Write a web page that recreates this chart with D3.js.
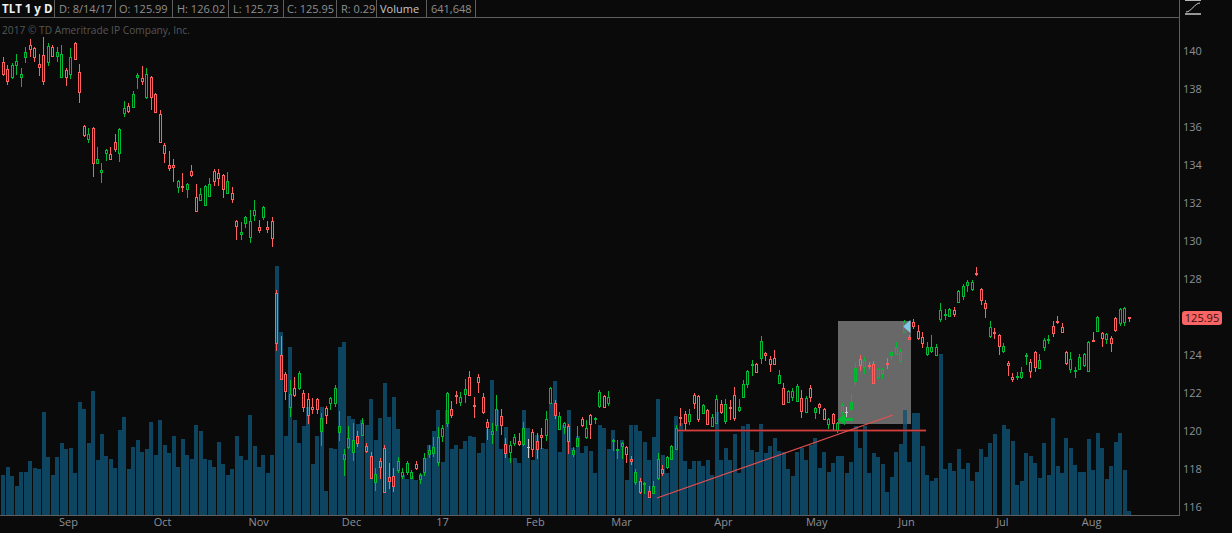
<!DOCTYPE html>
<html><head><meta charset="utf-8">
<script src="https://cdnjs.cloudflare.com/ajax/libs/d3/7.8.5/d3.min.js"></script>
<style>html,body{margin:0;padding:0;background:#0a0a0a;overflow:hidden}svg{display:block}text{font-family:"Open Sans",sans-serif}</style>
</head><body><svg id="c" width="1232" height="533"></svg>
<script>
const highs=[139.68,139.26,139.37,139.84,139.11,140.21,140.63,140.21,139.84,140.74,
140.42,140.32,140.21,140.32,139.11,140.16,140.47,139.32,136.11,135.95,
136.0,134.95,134.11,134.84,134.95,135.63,135.95,137.37,137.26,137.89,
138.84,139.21,139.11,138.68,137.79,136.89,135.16,134.74,134.32,133.21,
133.58,133.05,134.0,133.0,132.79,132.95,133.32,133.79,133.79,133.53,
133.63,132.84,131.11,131.0,131.32,131.63,132.16,131.11,131.84,131.05,
131.26,127.42,125.0,123.11,122.68,122.84,123.16,122.16,122.0,121.74,
121.74,120.95,121.32,121.79,122.42,121.05,119.05,120.26,120.42,120.0,
120.68,119.37,118.89,118.05,118.58,119.26,118.32,118.05,118.63,118.05,
118.42,117.95,118.42,117.79,118.84,119.26,119.68,120.21,120.32,122.05,
121.58,122.11,122.05,122.74,123.16,121.79,123.0,122.0,120.63,120.42,
121.89,121.16,119.63,119.47,119.84,119.89,120.47,119.58,120.11,119.89,
120.16,121.05,122.32,121.63,121.0,120.47,120.37,119.16,120.26,120.74,
120.58,120.89,120.74,122.16,121.89,122.11,119.58,119.53,119.42,119.21,
118.68,118.0,117.53,117.32,117.11,117.37,118.84,118.21,118.68,119.26,
120.32,121.21,121.05,121.16,122.0,121.89,121.42,121.16,120.89,121.89,
121.63,121.68,121.63,122.32,121.68,122.68,123.21,123.74,123.58,125.0,
124.16,123.95,124.26,123.21,122.53,122.16,122.26,122.47,122.16,121.84,
122.42,121.26,121.47,121.21,120.68,120.95,120.47,121.47,121.26,121.95,
123.58,124.0,123.89,123.63,123.68,123.32,123.32,123.84,124.21,124.68,
124.32,125.84,125.05,125.89,125.58,125.21,124.68,125.05,124.58,126.74,
126.42,126.47,126.53,127.42,127.74,127.95,127.95,128.63,127.53,126.89,
125.79,125.42,125.11,124.63,123.68,123.05,123.11,123.37,124.11,123.79,
124.21,124.05,124.89,125.05,125.79,126.05,125.68,124.21,124.16,123.37,
124.05,124.11,124.74,125.21,126.05,125.21,125.16,125.0,126.0,126.47,126.53,126.02];
const lows=[138.68,138.21,138.53,138.74,138.11,139.37,139.68,139.42,138.68,138.21,
139.21,139.68,139.42,138.58,138.16,138.53,139.53,137.26,135.47,135.16,
133.37,134.05,133.05,134.21,134.26,134.68,134.16,136.53,136.74,137.0,
138.0,138.21,137.47,136.89,136.79,135.16,134.11,133.68,133.11,132.53,
132.58,132.26,133.37,131.53,132.11,131.84,132.32,132.89,132.89,132.26,
132.47,132.0,130.05,130.05,130.68,129.89,131.05,130.42,131.11,130.42,
129.68,124.21,122.68,121.63,120.74,121.79,122.16,121.0,120.37,120.89,
120.89,119.21,120.37,121.11,121.26,119.47,117.63,119.05,118.42,119.16,
119.74,118.84,117.47,116.84,117.47,116.74,116.95,116.79,117.79,117.47,
117.68,117.47,117.95,117.21,117.63,118.58,118.63,118.16,119.42,120.21,
120.68,121.42,121.32,121.47,121.84,120.68,122.0,120.89,119.53,119.32,
120.0,119.79,118.58,118.32,119.21,119.21,119.21,118.58,118.63,118.53,
119.05,119.47,121.42,120.63,120.05,119.84,118.79,118.63,119.16,120.21,
119.58,119.58,120.37,121.21,121.21,121.32,118.95,118.53,118.53,118.32,
118.21,117.16,116.68,116.68,116.47,116.68,117.42,117.63,118.0,118.47,
119.0,120.26,120.05,120.32,121.16,120.47,120.89,120.32,120.21,120.37,
120.89,120.37,120.58,120.53,121.0,121.74,122.26,122.89,123.05,123.53,
123.68,123.11,123.47,122.47,121.37,121.47,121.58,121.53,120.68,120.95,
121.53,120.63,120.89,120.58,120.11,120.05,119.89,120.84,120.74,121.11,
122.42,123.16,123.0,123.26,122.47,122.74,122.74,123.26,123.74,124.0,
123.63,125.16,124.79,125.37,124.79,124.37,123.95,124.11,123.95,125.74,
125.84,126.0,126.0,126.74,126.89,127.32,127.37,128.16,126.63,125.95,
124.89,124.84,124.0,124.11,122.89,122.58,122.68,122.74,123.47,122.79,
123.11,123.26,124.21,124.58,124.95,125.63,125.16,123.47,123.05,122.79,
123.21,123.37,123.11,124.68,125.21,124.42,124.58,124.16,125.21,125.53,125.53,125.73];
const opens=[139.42,139.05,138.63,139.26,138.63,139.68,140.32,140.16,139.32,139.79,
139.42,140.21,139.74,138.63,139.0,138.79,140.42,138.89,136.05,135.37,
135.95,134.11,133.63,134.63,134.58,135.21,134.63,136.74,137.11,137.05,
138.63,138.58,137.58,138.63,137.74,136.68,135.05,134.0,134.0,132.84,
132.89,132.74,133.68,132.32,132.16,131.89,132.37,133.68,133.58,133.47,
132.53,132.53,131.05,130.37,130.95,130.21,131.37,130.74,131.26,130.74,
131.05,127.26,124.0,123.0,121.26,122.26,122.26,122.0,121.68,121.26,
121.68,120.0,121.21,121.47,121.47,119.95,118.53,119.16,118.89,119.74,
119.79,119.21,118.68,117.32,118.42,119.11,117.58,117.63,117.95,117.63,
117.84,117.53,118.26,117.47,117.84,118.79,118.84,118.37,119.74,120.42,
121.16,121.89,121.53,121.95,122.84,121.37,122.84,121.79,120.47,119.84,
120.32,120.79,119.32,118.89,119.37,119.47,119.32,119.16,119.95,119.47,
119.79,119.79,121.47,121.47,120.11,120.21,120.26,118.79,119.21,120.63,
119.68,120.84,120.63,121.32,121.84,121.47,119.47,119.0,119.21,119.16,
118.53,117.32,117.37,117.21,116.84,116.74,117.53,118.0,118.11,118.53,
119.05,120.74,120.89,120.53,121.89,121.84,120.95,121.11,120.26,120.42,
121.42,120.53,121.26,121.89,121.11,121.79,122.47,123.47,123.53,123.84,
124.11,123.79,123.84,122.53,122.26,121.53,121.79,121.58,121.74,121.0,
122.26,121.0,121.42,121.16,120.37,120.89,120.05,121.0,121.0,121.16,
122.63,123.79,123.37,123.47,123.53,122.84,123.0,123.58,124.0,124.05,
123.68,125.21,124.95,125.74,125.26,124.95,124.05,124.21,124.0,125.89,
126.11,126.05,126.37,126.79,127.11,127.68,127.47,128.32,127.47,126.74,
125.0,125.21,125.05,124.21,123.58,122.84,122.84,122.84,123.95,123.63,
124.16,123.32,124.42,124.79,125.53,125.79,125.47,124.16,123.26,123.16,
123.26,123.47,123.16,124.79,125.26,125.16,124.84,124.89,125.95,125.68,125.74,125.99];
const closes=[138.79,138.42,139.26,139.47,138.79,139.95,140.11,139.68,139.16,138.42,
140.26,139.74,139.95,139.84,138.63,139.68,139.58,137.84,135.58,135.63,
134.11,134.32,133.74,134.79,134.32,134.84,135.89,137.0,136.84,137.74,
138.74,138.42,138.79,137.58,136.79,135.21,134.63,133.84,133.89,133.16,
132.84,133.0,133.47,131.58,132.47,132.89,133.0,133.16,133.32,132.74,
133.16,132.21,130.79,130.47,131.26,131.05,131.63,130.58,131.79,130.63,
130.16,124.63,122.74,122.11,121.95,121.89,123.05,121.26,120.84,121.16,
121.16,120.68,120.84,121.74,122.26,120.26,118.79,119.63,119.53,119.37,
120.42,118.95,117.53,117.74,118.11,116.79,117.37,117.11,118.42,117.84,
118.32,117.84,118.05,117.68,118.58,119.0,119.16,119.68,120.16,122.0,
120.84,121.84,121.79,122.21,121.89,121.32,122.58,121.0,120.21,120.0,
121.16,120.32,118.84,119.26,119.68,119.32,120.16,119.16,119.05,119.05,
119.68,120.63,122.26,120.84,120.79,120.42,119.47,119.0,119.63,120.32,
120.16,120.37,120.68,122.05,121.26,121.79,119.53,119.05,119.37,118.79,
118.42,117.84,116.79,117.26,116.53,117.11,118.53,117.79,118.63,119.21,
120.16,120.68,120.42,120.89,121.47,120.63,121.37,120.37,120.74,121.68,
121.0,121.42,121.21,120.68,121.26,122.47,123.16,123.53,123.11,124.74,
124.0,123.53,123.53,122.95,121.42,122.11,122.11,122.37,121.05,121.74,
121.79,121.21,121.26,120.63,120.63,120.42,120.42,121.37,121.0,121.53,
123.32,123.47,123.74,123.42,122.53,123.26,123.26,123.53,124.16,124.42,
124.21,125.74,124.84,125.53,124.89,124.63,124.42,124.42,124.42,126.37,
126.16,126.42,126.16,127.37,127.63,127.84,127.84,128.26,126.89,126.47,
125.47,125.16,124.47,124.47,123.47,122.74,122.89,123.11,124.0,123.16,
123.37,123.74,124.79,124.84,125.16,125.74,125.21,123.58,123.79,123.21,
123.89,124.05,124.68,124.74,126.0,124.89,125.11,124.63,125.32,126.42,126.47,125.95];
const volumes=[40,48,39,29,43,43,54,47,46,103,
58,40,58,72,66,67,42,113,106,72,
124,55,81,59,56,47,85,98,46,68,
75,63,66,93,60,95,70,62,79,48,
76,60,56,90,84,56,55,48,73,51,
40,46,79,59,55,100,69,48,60,42,
60,249,183,79,168,95,72,89,108,51,
79,108,24,67,66,168,173,99,96,91,
95,90,116,75,97,132,98,118,86,40,
36,39,35,41,57,70,84,105,53,105,
66,70,66,74,79,78,62,72,86,135,
105,66,88,57,57,52,105,87,55,80,
67,66,112,134,63,90,105,67,79,62,
69,64,42,90,87,66,85,66,75,35,
90,90,84,73,55,78,116,60,42,65,
99,92,54,46,54,54,49,55,40,103,
55,67,55,81,42,89,91,65,63,91,
62,69,77,64,63,46,39,63,67,55,
70,77,47,63,43,52,59,59,42,53,
89,67,89,42,62,58,51,23,38,63,
71,105,53,102,102,69,40,34,37,161,
46,52,44,66,46,52,34,43,66,58,
72,81,0,90,86,74,30,34,62,59,
52,37,72,40,97,49,42,77,67,50,
43,43,76,45,82,67,36,49,73,82,45,4];
const priceTicks=[140,138,136,134,132,130,128,124,122,120,118,116];
const monthLabels=["Sep","Oct","Nov","Dec","17","Feb","Mar","Apr","May","Jun","Jul","Aug"];
const monthPositions=[14.4,35.4,56.8,77.5,97.8,118.5,137.7,160.4,181.2,201.2,222.6,242.5];
const headerCells=["D: 8/14/17","O: 125.99","H: 126.02","L: 125.73","C: 125.95","R: 0.29","Volume","641,648"];
const lastPrice=125.95;
const horizontalLevel={from:150.4,to:205.7,price:120.05};
const trendFrom=[145.7,116.47], trendTo=[198.3,120.84];
const boxFrom=[186.1,125.79], boxTo=[202.3,120.37];
const arrowGreen=[[185.9,120.6],[187.6,120.9],[187.6,120.68],[189.4,120.68],[189.4,120.53],[187.6,120.53],[187.6,120.3]];
const arrowCyan=[[200.6,125.5],[202.2,125.84],[202.2,125.16]];

const RED="#ff5f5f",GREEN="#00bb33",GRAY="#c8c8c8",BAR="#0d4460",LINE="#5e5e5e",TXT="#8c9096";
const x=d3.scaleLinear().domain([0,251]).range([3.3,1129.3]);
const y=d3.scaleLinear().domain([116,140]).range([507,51]);
const v=d3.scaleLinear().domain([0,249]).range([515,266]);
const svg=d3.select("#c");
const xy=p=>[x(p[0]),y(p[1])];

const box=[x(boxFrom[0]),y(boxFrom[1]),x(boxTo[0])-x(boxFrom[0]),y(boxTo[1])-y(boxFrom[1])].map(Math.round);
svg.append("rect").attr("x",box[0]).attr("y",box[1]).attr("width",box[2]).attr("height",box[3]).attr("fill","#5a5a5a");

svg.append("g").selectAll("rect").data(volumes).join("rect")
 .attr("x",(d,i)=>Math.round(x(i)-2)).attr("width",4)
 .attr("y",d=>Math.round(v(d))).attr("height",d=>515-Math.round(v(d))).attr("fill",BAR);

svg.append("rect").attr("x",box[0]).attr("y",box[1]).attr("width",box[2]).attr("height",box[3]).attr("fill","#fff").attr("opacity",0.09);

svg.append("text").attr("x",2).attr("y",34).attr("font-size",10.2).attr("fill","#565656").text("2017 © TD Ameritrade IP Company, Inc.");

const levelY=Math.round(y(horizontalLevel.price))+.5;
svg.append("line").attr("x1",x(horizontalLevel.from)).attr("x2",x(horizontalLevel.to)).attr("y1",levelY).attr("y2",levelY)
 .attr("stroke","#8f2d2d").attr("stroke-width",3).attr("opacity",.6);

const col=i=>closes[i]>opens[i]?GREEN:closes[i]<opens[i]?RED:GRAY;
const g=svg.append("g");
d3.range(highs.length).forEach(i=>{
  const cx=Math.floor(x(i)), c=col(i);
  const top=Math.round(y(highs[i])), bot=Math.round(y(lows[i]));
  const t=Math.round(y(Math.max(opens[i],closes[i]))), b=Math.round(y(Math.min(opens[i],closes[i])));
  g.append("rect").attr("x",cx).attr("y",top).attr("width",1).attr("height",Math.max(1,t-top)).attr("fill",c);
  g.append("rect").attr("x",cx).attr("y",b).attr("width",1).attr("height",Math.max(1,bot-b)).attr("fill",c);
  if(b-t<=1) g.append("rect").attr("x",cx-1).attr("y",t).attr("width",3).attr("height",Math.max(1,b-t+1)).attr("fill",c);
  else g.append("rect").attr("x",cx-.5).attr("y",t+.5).attr("width",2).attr("height",b-t).attr("fill","none").attr("stroke",c).attr("stroke-width",1);
});

svg.append("line").attr("x1",x(horizontalLevel.from)).attr("x2",x(horizontalLevel.to)).attr("y1",levelY).attr("y2",levelY)
 .attr("stroke","#d83c3c").attr("stroke-width",1);
svg.append("line").attr("x1",x(trendFrom[0])).attr("y1",y(trendFrom[1])).attr("x2",x(trendTo[0])).attr("y2",y(trendTo[1]))
 .attr("stroke","#e84f4f").attr("stroke-width",1.1);

const poly=d3.line().x(d=>xy(d)[0]).y(d=>xy(d)[1]).curve(d3.curveLinearClosed);
svg.append("path").attr("d",poly(arrowGreen)).attr("fill",GREEN);
svg.append("path").attr("d",poly(arrowCyan)).attr("fill","#7fcbe6");

svg.append("line").attr("x1",0).attr("x2",1180).attr("y1",515.5).attr("y2",515.5).attr("stroke",LINE);
svg.append("line").attr("x1",0).attr("x2",1180).attr("y1",17.5).attr("y2",17.5).attr("stroke",LINE);
svg.append("line").attr("x1",1179.5).attr("x2",1179.5).attr("y1",0).attr("y2",516).attr("stroke",LINE);

const ax=svg.append("g").attr("transform","translate(1179,0)").call(d3.axisRight(y).tickValues(priceTicks).tickSize(0).tickPadding(4));
ax.select(".domain").remove();
ax.selectAll("text").attr("fill",TXT).attr("font-size",11).attr("font-family","'Open Sans',sans-serif");
const ay=svg.append("g").attr("transform","translate(0,515)").call(d3.axisBottom(x).tickValues(monthPositions).tickFormat((d,i)=>monthLabels[i]).tickSize(0).tickPadding(3));
ay.select(".domain").remove();
ay.selectAll("text").attr("fill",TXT).attr("font-size",11).attr("font-family","'Open Sans',sans-serif");

const py=y(lastPrice);
svg.append("rect").attr("x",1182).attr("y",py-7).attr("width",40).attr("height",14).attr("rx",3).attr("fill","#f96464");
svg.append("text").attr("x",1202).attr("y",py+4).attr("text-anchor","middle").attr("font-size",11).attr("fill","#3a1010").text(lastPrice.toFixed(2));

svg.append("text").attr("x",2).attr("y",12.5).attr("font-size",11.5).attr("font-weight",700).attr("fill","#f0f0f0").text("TLT 1 y D");
const cellX=[59,119,177,233,287,341,380,431], sepX=[54,115,172,228,283,336,376,426,475];
headerCells.forEach((t,i)=>svg.append("text").attr("x",cellX[i]).attr("y",12.5).attr("font-size",11)
 .attr("fill",t==="Volume"?"#c8c8c8":"#8f8f8f").text(t));
sepX.forEach(s=>svg.append("line").attr("x1",s+.5).attr("x2",s+.5).attr("y1",0).attr("y2",17).attr("stroke",LINE));

svg.append("path").attr("d","M1186 12C1191 12 1195 3 1200 3").attr("fill","none").attr("stroke","#cfcfcf").attr("stroke-width",1);
svg.append("line").attr("x1",1185).attr("x2",1201).attr("y1",14).attr("y2",14).attr("stroke","#e4e4e4").attr("stroke-width",1.3);
svg.append("line").attr("x1",1185).attr("x2",1201).attr("y1",0).attr("y2",0).attr("stroke","#e4e4e4").attr("stroke-width",1.6);
</script></body></html>
